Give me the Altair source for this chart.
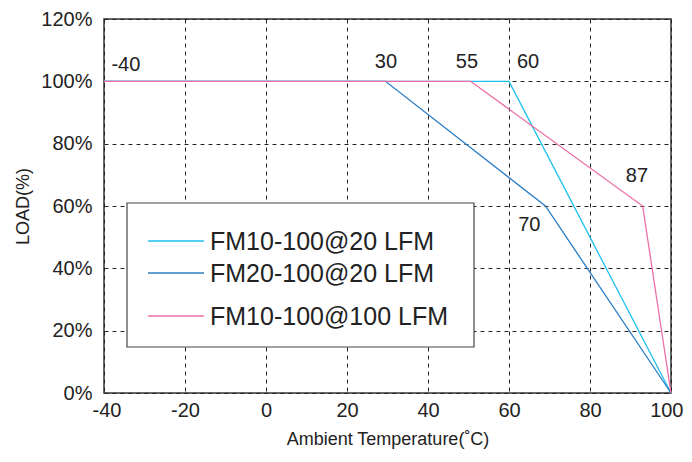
import altair as alt
import pandas as pd

# Series (temperature in °C, load in %)
series_names = ["FM10-100@20 LFM", "FM20-100@20 LFM", "FM10-100@100 LFM"]
fm10_20_x = [-40, 60, 100]
fm10_20_y = [100, 100, 0]
fm20_20_x = [-40, 29.5, 69, 100]
fm20_20_y = [100, 100, 60, 0]
fm10_100_x = [-40, 50.5, 93, 100]
fm10_100_y = [100, 100, 60, 0]
colors = ["#1cc0f0", "#2a7cc4", "#ee6ea8"]

# Annotation labels
ann_text = ["-40", "30", "55", "60", "87", "70"]
ann_x = [-34.6, 29.6, 49.6, 64.7, 91.6, 65.0]
ann_y = [105.4, 106.3, 106.3, 106.3, 69.5, 54.0]

x_ticks = [-40, -20, 0, 20, 40, 60, 80, 100]
y_ticks = [0, 20, 40, 60, 80, 100, 120]

rows = []
for name, xs, ys in zip(series_names, [fm10_20_x, fm20_20_x, fm10_100_x],
                        [fm10_20_y, fm20_20_y, fm10_100_y]):
    for i, (x, y) in enumerate(zip(xs, ys)):
        rows.append({"series": name, "temp": x, "load": y, "idx": i})
df = pd.DataFrame(rows)
ann = pd.DataFrame({"text": ann_text, "temp": ann_x, "load": ann_y})

FONT = "Liberation Sans"
TXT = "#222"

xscale = alt.Scale(domain=[-40, 100], nice=False, zero=False)
yscale = alt.Scale(domain=[0, 120], nice=False)

lines = alt.Chart(df).mark_line(strokeWidth=1.3).encode(
    x=alt.X("temp:Q", scale=xscale,
            axis=alt.Axis(values=x_ticks, title="Ambient Temperature(˚C)", grid=True,
                          gridDash=[4, 4], gridColor="#222", gridWidth=1, ticks=False,
                          domain=False, labelFontSize=20, labelPadding=7,
                          labelFlush=True, labelFlushOffset=12,
                          labelExpr="'' + datum.value",
                          titleFontSize=18, titleFontWeight="normal", titlePadding=10,
                          labelColor=TXT, titleColor=TXT, labelFont=FONT, titleFont=FONT)),
    y=alt.Y("load:Q", scale=yscale,
            axis=alt.Axis(values=y_ticks, title="LOAD(%)", grid=True, gridDash=[4, 4],
                          gridColor="#222", gridWidth=1, ticks=False, domain=False,
                          labelFlush=False,
                          labelExpr="datum.value + '%'", labelFontSize=20, labelPadding=12,
                          titleFontSize=18, titleFontWeight="normal", titlePadding=8,
                          labelColor=TXT, titleColor=TXT, labelFont=FONT, titleFont=FONT)),
    color=alt.Color("series:N", sort=series_names,
                    scale=alt.Scale(domain=series_names, range=colors), legend=None),
    order="idx:Q",
)

texts = alt.Chart(ann).mark_text(fontSize=20, font=FONT, color=TXT).encode(
    x=alt.X("temp:Q", scale=xscale),
    y=alt.Y("load:Q", scale=yscale),
    text="text:N",
)

# Legend box (layout, in pixels relative to the plot area)
legend_box = alt.Chart(ann).mark_rect(fill="white", stroke="#444", strokeWidth=1.2).encode(
    x=alt.value(23), x2=alt.value(370), y=alt.value(184), y2=alt.value(328)
).transform_filter("datum.text == '-40'")

legend_row_y = [222, 254, 297]
legend_layers = []
for name, col, ry in zip(series_names, colors, legend_row_y):
    legend_layers.append(
        alt.Chart(ann).mark_rule(color=col, strokeWidth=1.5).encode(
            x=alt.value(44), x2=alt.value(100), y=alt.value(ry)
        ).transform_filter("datum.text == '-40'")
    )
    legend_layers.append(
        alt.Chart(ann).mark_text(fontSize=25, font=FONT, color=TXT, align="left",
                                 baseline="middle").encode(
            x=alt.value(106), y=alt.value(ry + 1), text=alt.value(name)
        ).transform_filter("datum.text == '-40'")
    )

chart = alt.layer(lines, texts, legend_box, *legend_layers).properties(
    width=567, height=374,
    autosize=alt.AutoSizeParams(type="none"),
    padding={"left": 96, "top": 11, "right": 13, "bottom": 60},
).configure_view(stroke="#333", strokeWidth=1.5)

chart.save("out.html", embed_options={"renderer": "svg", "actions": False})
